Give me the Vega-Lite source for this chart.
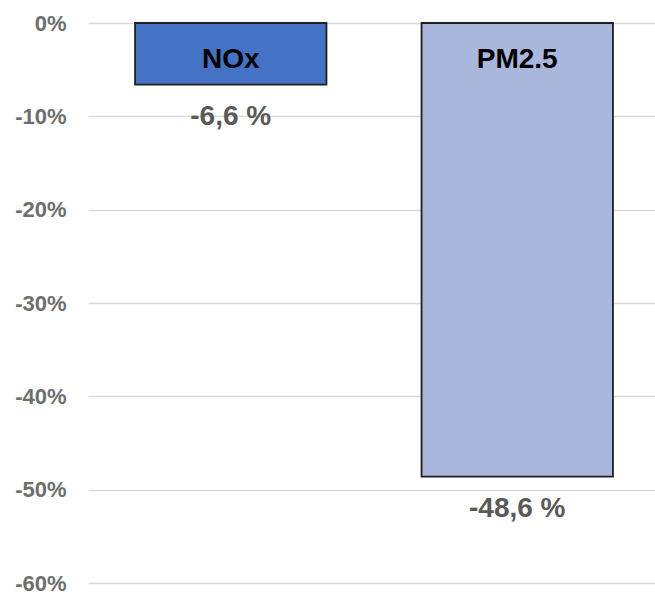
{
  "$schema": "https://vega.github.io/schema/vega-lite/v6.json",
  "autosize": "none",
  "width": 567,
  "height": 560,
  "padding": {"left": 88, "top": 23, "right": 0, "bottom": 9},
  "background": "white",
  "config": {"view": {"stroke": null}, "font": "Liberation Sans"},
  "data": {"values": [
    {"pollutant": "NOx", "change": -6.6, "label": "-6,6 %"},
    {"pollutant": "PM2.5", "change": -48.6, "label": "-48,6 %"}
  ]},
  "encoding": {
    "x": {"field": "pollutant", "type": "nominal", "axis": null, "sort": null,
      "scale": {"paddingInner": 0.332, "paddingOuter": 0.1556, "align": 0.528}},
    "y": {"field": "change", "type": "quantitative"}
  },
  "layer": [
    {
      "mark": {"type": "bar", "stroke": "#1f1f1f", "strokeWidth": 1.8},
      "encoding": {
        "y": {"field": "change", "type": "quantitative",
          "scale": {"domain": [-60, 0], "nice": false},
          "axis": {"values": [0, -10, -20, -30, -40, -50, -60], "labelExpr": "datum.value + '%'",
            "title": null, "domain": false, "ticks": false, "grid": true, "gridColor": "#d9d9d9", "gridWidth": 1.5,
            "labelColor": "#6e6e6e", "labelFont": "Liberation Sans", "labelFontSize": 22, "labelFontWeight": "bold", "labelPadding": 22}},
        "color": {"field": "pollutant", "type": "nominal", "legend": null,
          "scale": {"domain": ["NOx", "PM2.5"], "range": ["#4472C4", "#A9B7DC"]}}
      }
    },
    {
      "mark": {"type": "text", "baseline": "middle", "dy": 37, "fontSize": 28, "fontWeight": "bold", "color": "#000000", "font": "Liberation Sans"},
      "encoding": {"y": {"datum": 0}, "text": {"field": "pollutant"}}
    },
    {
      "mark": {"type": "text", "baseline": "middle", "dy": 32, "fontSize": 28, "fontWeight": "bold", "color": "#595959", "font": "Liberation Sans"},
      "encoding": {"text": {"field": "label"}}
    }
  ]
}
